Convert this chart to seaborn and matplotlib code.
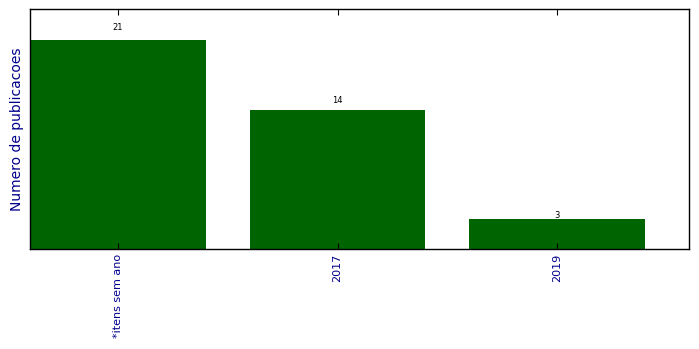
import matplotlib
matplotlib.use("Agg")
import matplotlib.pyplot as plt
import seaborn as sns
import pandas as pd

categories = ["*itens sem ano", "2017", "2019"]
values = [21, 14, 3]

df = pd.DataFrame({"cat": categories, "val": values})

fig = plt.figure(figsize=(6.99, 3.49), dpi=100)
ax = fig.add_axes([30/699, 100/349, 659/699, 240/349])
sns.barplot(data=df, x="cat", y="val", color="#006400", saturation=1, width=0.8,
            ax=ax, linewidth=0)
ax.set_xlim(-0.4, 2.6)
ax.set_ylim(0, max(values) * 1.15)
ax.set_yticks([])
ax.set_xlabel("")
ax.set_ylabel("Numero de publicacoes", color="darkblue", fontsize=10)
ax.tick_params(axis="x", direction="in", top=True, length=4, colors="black",
               labelcolor="darkblue", labelsize=8, labelrotation=90)
for s in ax.spines.values():
    s.set_color("black")
    s.set_linewidth(1)
for i, v in enumerate(values):
    ax.text(i, v * 1.05, str(v), ha="center", va="baseline", fontsize=6)
fig.savefig("out.png", dpi=100)
